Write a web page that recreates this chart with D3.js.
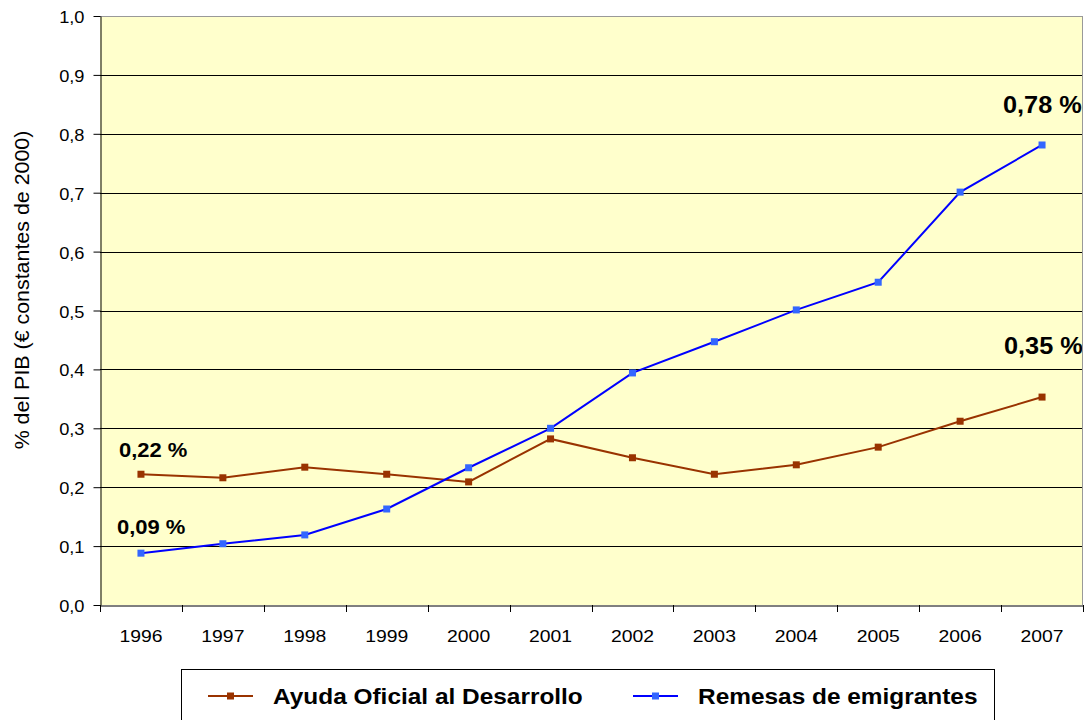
<!DOCTYPE html>
<html><head><meta charset="utf-8">
<script src="https://cdn.jsdelivr.net/npm/d3@7"></script>
<style>body{margin:0;background:#fff;} svg{display:block;font-family:"Liberation Sans",Arial,sans-serif;}</style>
</head><body>
<svg id="c" width="1089" height="720"></svg>
<script>
const years = ["1996","1997","1998","1999","2000","2001","2002","2003","2004","2005","2006","2007"];
const aod = [0.222,0.216,0.234,0.222,0.209,0.282,0.250,0.222,0.238,0.268,0.312,0.353];
const remesas = [0.088,0.104,0.119,0.163,0.233,0.300,0.394,0.447,0.501,0.548,0.701,0.781];
const yTicks = [0,0.1,0.2,0.3,0.4,0.5,0.6,0.7,0.8,0.9,1.0];
const seriesNames = ["Ayuda Oficial al Desarrollo","Remesas de emigrantes"];
const annotations = [
  {text:"0,22 %", year:"1996", v:0.222, dx:-22, dy:-17, size:20},
  {text:"0,09 %", year:"1996", v:0.088, dx:-24, dy:-19, size:20},
  {text:"0,78 %", year:"2007", v:0.781, dx:-39, dy:-32, size:23},
  {text:"0,35 %", year:"2007", v:0.353, dx:-38, dy:-43, size:23}
];

const SX = 1.14; // horizontal stretch of the reference's text
const svg = d3.select("#c");
const L=100, R=1083, T=16, B=605;
const x = d3.scaleBand().domain(years).range([L,R]);
const y = d3.scaleLinear().domain([0,1]).range([B,T]);
const fmt = d => d3.format(".1f")(d).replace(".",",");

svg.append("defs").append("clipPath").attr("id","plotclip")
  .append("rect").attr("x",0).attr("y",0).attr("width",R-1).attr("height",B);

svg.append("rect").attr("x",L).attr("y",T).attr("width",R-L).attr("height",B-T).attr("fill","#FFFFCC");
// gridlines
svg.append("g").selectAll("line").data(yTicks.filter(d=>d>0)).join("line")
  .attr("x1",L).attr("x2",R).attr("y1",d=>Math.round(y(d))+0.5).attr("y2",d=>Math.round(y(d))+0.5)
  .attr("stroke",d=>d===1?"#999":"#000").attr("stroke-width",1);
// right border
svg.append("line").attr("x1",R-0.5).attr("x2",R-0.5).attr("y1",T).attr("y2",B).attr("stroke","#999");

// y axis
const ya = svg.append("g").attr("transform",`translate(${L+0.5},0)`)
  .call(d3.axisLeft(y).tickValues(yTicks).tickFormat(fmt).tickSize(7).tickSizeOuter(0));
ya.select(".domain").attr("stroke","#000");
ya.selectAll(".tick line").attr("stroke","#000");
ya.selectAll("text").attr("font-size",16).attr("fill","#000").attr("font-family","Liberation Sans,Arial,sans-serif")
  .attr("x",-16/SX).attr("dy",6.5).attr("transform",`scale(${SX},1)`);
// x axis
const xa = svg.append("g").attr("transform",`translate(0,${B+0.5})`)
  .call(d3.axisBottom(x).tickSize(0).tickSizeOuter(0));
xa.select(".domain").attr("stroke","#000");
xa.selectAll("text").attr("font-size",17).attr("fill","#000").attr("y",37).attr("dy",0)
  .attr("font-family","Liberation Sans,Arial,sans-serif").attr("transform",`scale(${SX},1)`);
svg.append("g").selectAll("line").data(years.concat(["end"])).join("line")
  .attr("x1",(d,i)=>Math.round(L+i*x.step())+0.5).attr("x2",(d,i)=>Math.round(L+i*x.step())+0.5)
  .attr("y1",B).attr("y2",B+7).attr("stroke","#000");

// y label
svg.append("text").attr("transform",`translate(29,290) rotate(-90) scale(1.07,1)`)
  .attr("text-anchor","middle").attr("font-size",20).text("% del PIB (€ constantes de 2000)");

const line = d3.line().x((d,i)=>x(years[i])+x.bandwidth()/2).y(d=>y(d));
const series = [{v:aod,line:"#993300",mk:"#993300"},{v:remesas,line:"#0000FF",mk:"#3366FF"}];
series.forEach(s=>{
  svg.append("path").datum(s.v).attr("d",line).attr("fill","none").attr("stroke",s.line).attr("stroke-width",2);
  svg.append("g").selectAll("rect").data(s.v).join("rect")
    .attr("x",(d,i)=>x(years[i])+x.bandwidth()/2-3.5).attr("y",d=>y(d)-3.5)
    .attr("width",7).attr("height",7).attr("fill",s.mk);
});

const ann = svg.append("g").attr("clip-path","url(#plotclip)");
annotations.forEach(a=>{
  const ax = x(a.year)+x.bandwidth()/2+a.dx, ay = y(a.v)+a.dy;
  ann.append("text").attr("transform",`translate(${ax},${ay}) scale(1.1,1)`)
    .attr("font-size",a.size).attr("font-weight","bold").text(a.text);
});

// legend
const lg = svg.append("g");
lg.append("rect").attr("x",181.5).attr("y",669.5).attr("width",813).attr("height",60).attr("fill","#fff").attr("stroke","#000");
const items=[{x0:208,x1:253,tx:273,c:"#993300",m:"#993300"},{x0:633,x1:678,tx:698,c:"#0000FF",m:"#3366FF"}];
items.forEach((it,i)=>{
  lg.append("line").attr("x1",it.x0).attr("x2",it.x1).attr("y1",696).attr("y2",696).attr("stroke",it.c).attr("stroke-width",2);
  lg.append("rect").attr("x",(it.x0+it.x1)/2-3.5).attr("y",696-3.5).attr("width",7).attr("height",7).attr("fill",it.m);
  lg.append("text").attr("transform",`translate(${it.tx},704) scale(1.11,1)`)
    .attr("font-size",22).attr("font-weight","bold").text(seriesNames[i]);
});
</script>
</body></html>
